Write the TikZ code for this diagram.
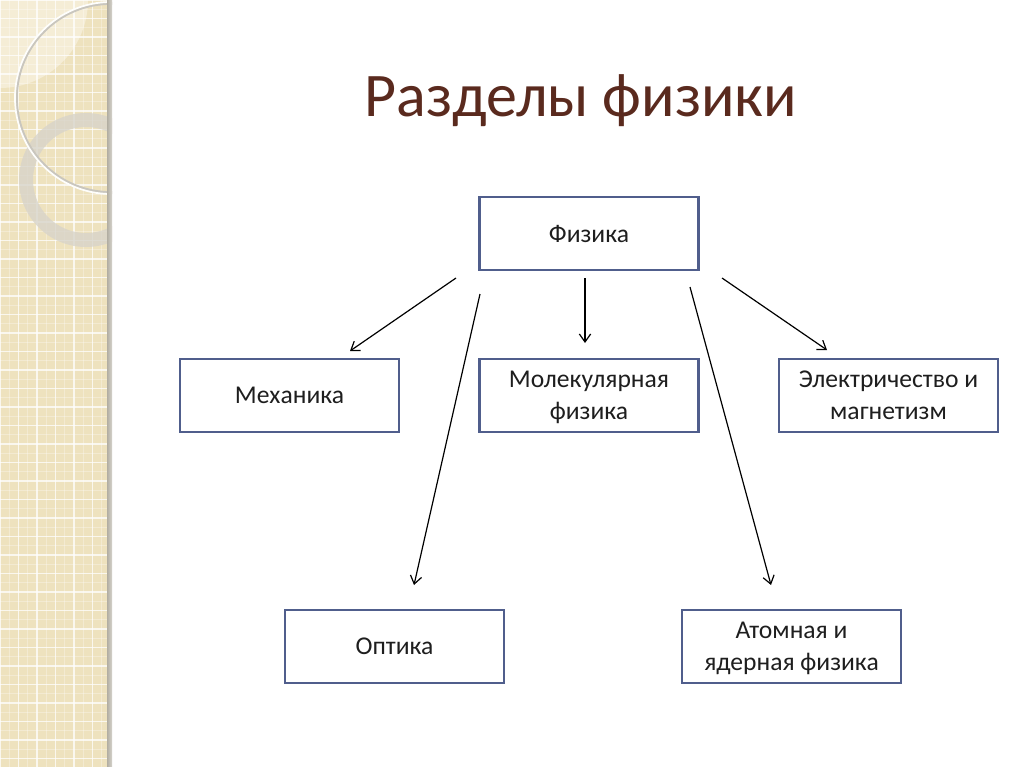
\documentclass[tikz,border=0pt]{standalone}
\usepackage{fontspec}
\setmainfont{Carlito}
\usetikzlibrary{arrows.meta}
\definecolor{beige}{RGB}{238,226,190}
\definecolor{beigelight}{RGB}{245,237,214}
\definecolor{boxblue}{RGB}{80,94,140}
\definecolor{titlebrown}{RGB}{90,42,30}
\definecolor{bargray}{RGB}{178,174,162}
\definecolor{ringgray}{RGB}{216,212,202}
\definecolor{textgray}{RGB}{30,30,30}
\tikzset{
  box/.style={draw=boxblue, line width=1.6pt, minimum width=164.25pt, minimum height=54.75pt,
    inner sep=0pt, outer sep=0pt, align=center, text depth=0pt, text=textgray,
    font=\fontsize{19.2}{24}\selectfont},
  conn/.style={line width=0.9pt, -{Straight Barb[length=6pt,width=8.5pt,line width=0.9pt]}},
}
\begin{document}
\begin{tikzpicture}[x=0.75pt,y=-0.75pt]
\useasboundingbox (0,0) rectangle (1024,767);
\fill[white] (0,0) rectangle (1024,767);
% decorative strip
\begin{scope}
  \clip (0,0) rectangle (112,767);
  \fill[beige] (0,0) rectangle (107,767);
  \fill[beigelight] (0,0) circle (88);
  \foreach \i in {0,...,40} {
    \draw[white, opacity=0.3, line width=0.4pt] (0,\i*18.5+9) -- (107,\i*18.5+9);
  }
  \foreach \i in {0,...,5} {
    \draw[white, opacity=0.3, line width=0.4pt] (\i*18.5+9,0) -- (\i*18.5+9,767);
  }
  \foreach \i in {0,...,41} {
    \draw[white, opacity=0.75, line width=0.9pt] (0,\i*18.5) -- (107,\i*18.5);
  }
  \foreach \i in {0,...,5} {
    \draw[white, opacity=0.75, line width=0.9pt] (\i*18.5,0) -- (\i*18.5,767);
  }
  \fill[ringgray, opacity=0.8, even odd rule] (86,180) circle (67) (86,180) circle (53);
  \draw[bargray!70, line width=2pt] (111,98) circle (94.5);
  \draw[white!96!beige, line width=1.3pt] (111,98) circle (96);
  \shade[left color=bargray, right color=bargray!55] (107,0) rectangle (112,767);
\end{scope}
% title
\node[anchor=base, text=titlebrown, font=\fontsize{46.5}{54}\selectfont] (title) at (581,117) {Разделы физики};
% boxes
\node[box] (phys) at (589,233.5) {Физика};
\node[box] (mech) at (289.5,395.5) {Механика};
\node[box] (mol) at (589,395.5) {Молекулярная\\физика};
\node[box] (elec) at (888.5,395.5) {Электричество и\\магнетизм};
\node[box] (opt) at (394.5,646.5) {Оптика};
\node[box] (atom) at (791.5,646.5) {Атомная и\\ядерная физика};
% connector endpoints
\coordinate (a1s) at (456,278); \coordinate (a1e) at (350,351);
\coordinate (a2s) at (585,278); \coordinate (a2e) at (585,343);
\coordinate (a3s) at (722,278); \coordinate (a3e) at (827,350);
\coordinate (a4s) at (480,294); \coordinate (a4e) at (414,585);
\coordinate (a5s) at (690,287); \coordinate (a5e) at (771,585);
\draw[conn] (a1s) -- (a1e);
\draw[conn] (a2s) -- (a2e);
\draw[conn] (a3s) -- (a3e);
\draw[conn] (a4s) -- (a4e);
\draw[conn] (a5s) -- (a5e);
\end{tikzpicture}
\end{document}
